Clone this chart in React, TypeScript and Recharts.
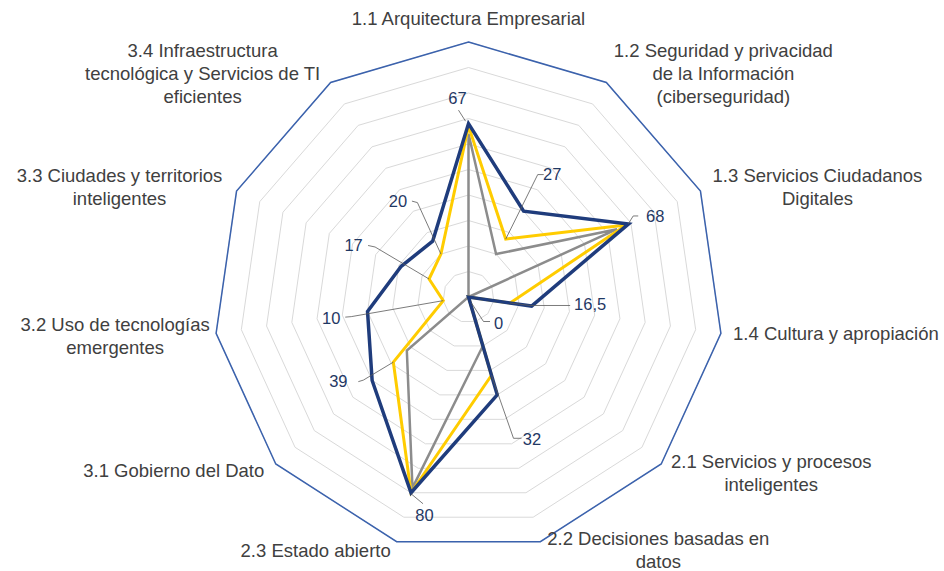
import React from 'react';
import { RadarChart, Radar, PolarGrid, PolarAngleAxis, PolarRadiusAxis } from 'recharts';

const categories = [
  '1.1 Arquitectura Empresarial',
  '1.2 Seguridad y privacidad\nde la Información\n(ciberseguridad)',
  '1.3 Servicios Ciudadanos\nDigitales',
  '1.4 Cultura y apropiación',
  '2.1 Servicios y procesos\ninteligentes',
  '2.2 Decisiones basadas en\ndatos',
  '2.3 Estado abierto',
  '3.1 Gobierno del Dato',
  '3.2 Uso de tecnologías\nemergentes',
  '3.3 Ciudades y territorios\ninteligentes',
  '3.4 Infraestructura\ntecnológica y Servicios de TI\neficientes',
];

const blueValues = [68, 40, 69, 25, 0, 40, 80, 50, 40, 29, 26];
const yellowValues = [67, 27, 68, 16.5, 0, 32, 80, 39, 10, 17, 20];
const grayValues = [64, 20, 64, 0, 0, 20, 78, 32, 0, 0, 0];

const radiusDomain = [0, 100];

const data = categories.map((name, i) => ({
  name,
  blue: blueValues[i],
  yellow: yellowValues[i],
  gray: grayValues[i],
}));

// layout
const W = 944;
const H = 571;
const CX = 468.5;
const CY = 297;
const OUTER_R = 255;
const FONT = '"Liberation Sans", Arial, sans-serif';

// category label block centre, relative to the outer vertex
const tickOffsets: [number, number][] = [
  [0, -23],
  [117, -8.5],
  [117, -4.5],
  [115, 0],
  [110, 9],
  [118, 8.5],
  [-81, 9],
  [-102, 7],
  [-101, 3],
  [-117, -4],
  [-128, -8.5],
];

// data label text position + leader line, relative to the point
const labelText: [number, number][] = [
  [-11, -28],
  [46.5, -64.5],
  [29, -8.5],
  [80, 1.5],
  [30, 26],
  [40.5, 63.5],
  [13.5, 22.5],
  [-55, 19.5],
  [-112, 17.5],
  [-75.5, -33.5],
  [-43, -53],
];
const leaders: [number, number][][] = [
  [[-3, -5], [-10, -16]],
  [[0, 0], [32, -64.5], [38, -64.5]],
  [[2, -1], [7, -9], [12, -9]],
  [[0, 0], [20, 2.5], [60, 2.5]],
  [[3, 6], [15, 24.5], [21.5, 24.5]],
  [[0, 0], [22, 63], [30, 63]],
  [[0, 1], [12, 11]],
  [[0, 0], [-30, 18], [-35, 19.5]],
  [[0, 0], [-92, 16], [-98, 16.5]],
  [[0, 0], [-54, -32], [-61, -33.5]],
  [[0, 0], [-23.5, -51.5], [-29, -53]],
];

const vertex = (index: number) => {
  const a = ((90 - (index * 360) / categories.length) * Math.PI) / 180;
  return { x: CX + OUTER_R * Math.cos(a), y: CY - OUTER_R * Math.sin(a) };
};

function CategoryTick(props: any) {
  const { index } = props;
  const v = vertex(index);
  const [dx, dy] = tickOffsets[index];
  const lines = categories[index].split('\n');
  const lh = 23;
  const top = v.y + dy - ((lines.length - 1) * lh) / 2;
  const x = v.x + dx;
  return (
    <text textAnchor="middle" fontSize={18.5} fill="#404040" fontFamily={FONT}>
      {lines.map((l, i) => (
        <tspan key={i} x={x} y={top + i * lh} dy="0.35em">
          {l}
        </tspan>
      ))}
    </text>
  );
}

function ValueLabel(props: any) {
  const { cx, cy, index } = props;
  const pts = leaders[index].map(([lx, ly]) => `${cx + lx},${cy + ly}`).join(' ');
  const [tx, ty] = labelText[index];
  const txt = String(yellowValues[index]).replace('.', ',');
  return (
    <g key={`lbl-${index}`}>
      <polyline points={pts} fill="none" stroke="#595959" strokeWidth={0.8} />
      <text
        x={cx + tx}
        y={cy + ty}
        dy="0.35em"
        textAnchor="middle"
        fontSize={16.5}
        fill="#1f3864"
        fontFamily={FONT}
      >
        {txt}
      </text>
    </g>
  );
}

export default function App() {
  return (
    <div style={{ position: 'absolute', left: 0, top: 0, background: '#fff' }}>
      <RadarChart
        width={W}
        height={H}
        data={data}
        cx={CX}
        cy={CY}
        outerRadius={OUTER_R}
        startAngle={90}
        endAngle={-270}
      >
        <PolarGrid gridType="polygon" radialLines={false} stroke="#d9d9d9" strokeWidth={1} />
        <PolarRadiusAxis
          domain={radiusDomain}
          tickCount={11}
          tick={false}
          axisLine={false}
        />
        <PolarAngleAxis
          dataKey="name"
          tick={<CategoryTick />}
          tickLine={false}
          axisLine={{ stroke: '#3b62ad', strokeWidth: 1.5 }}
          axisLineType="polygon"
        />
        <Radar
          dataKey="gray"
          stroke="#8c8c8c"
          strokeWidth={2.5}
          fill="none"
          dot={false}
          isAnimationActive={false}
        />
        <Radar
          dataKey="yellow"
          stroke="#ffcc00"
          strokeWidth={3}
          fill="none"
          dot={false}
          isAnimationActive={false}
        />
        <Radar
          dataKey="blue"
          stroke="#1f3c7c"
          strokeWidth={3.5}
          fill="none"
          dot={false}
          isAnimationActive={false}
        />
        <Radar
          dataKey="yellow"
          stroke="none"
          fill="none"
          dot={(p: any) => <ValueLabel key={`v-${p.index}`} {...p} />}
          isAnimationActive={false}
        />
      </RadarChart>
    </div>
  );
}
